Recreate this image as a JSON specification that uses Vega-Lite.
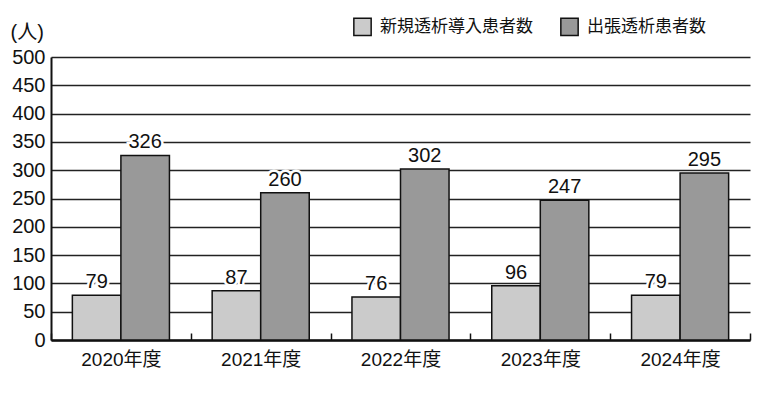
{
  "$schema": "https://vega.github.io/schema/vega-lite/v6.json",
  "autosize": "none",
  "width": 699,
  "height": 283,
  "padding": {"left": 51, "top": 57, "right": 24, "bottom": 56},
  "background": "white",
  "config": {
    "font": "Liberation Sans, Noto Sans CJK JP",
    "view": {"stroke": null}
  },
  "data": {
    "values": [
      {"year": "2020年度", "type": "新規透析導入患者数", "value": 79},
      {"year": "2020年度", "type": "出張透析患者数", "value": 326},
      {"year": "2021年度", "type": "新規透析導入患者数", "value": 87},
      {"year": "2021年度", "type": "出張透析患者数", "value": 260},
      {"year": "2022年度", "type": "新規透析導入患者数", "value": 76},
      {"year": "2022年度", "type": "出張透析患者数", "value": 302},
      {"year": "2023年度", "type": "新規透析導入患者数", "value": 96},
      {"year": "2023年度", "type": "出張透析患者数", "value": 247},
      {"year": "2024年度", "type": "新規透析導入患者数", "value": 79},
      {"year": "2024年度", "type": "出張透析患者数", "value": 295}
    ]
  },
  "encoding": {
    "x": {
      "field": "year", "type": "nominal", "sort": null,
      "scale": {"paddingInner": 0, "paddingOuter": 0},
      "axis": {
        "title": null, "labelAngle": 0, "labelFontSize": 19, "labelColor": "#111",
        "labelPadding": 17,
        "labelFont": "Liberation Sans, Noto Sans CJK JP",
        "tickBand": "extent", "tickSize": -7, "tickColor": "#111", "tickWidth": 1.5,
        "domainColor": "#111", "domainWidth": 2.5, "grid": false
      }
    },
    "xOffset": {
      "field": "type", "type": "nominal",
      "sort": ["新規透析導入患者数", "出張透析患者数"],
      "scale": {"paddingOuter": 0.44, "paddingInner": 0}
    },
    "y": {
      "field": "value", "type": "quantitative",
      "scale": {"domain": [0, 500]},
      "axis": {
        "values": [0, 50, 100, 150, 200, 250, 300, 350, 400, 450, 500],
        "title": "(人)", "titleAngle": 0, "titleFontSize": 20, "titleFontWeight": "normal",
        "titleAlign": "left", "titleBaseline": "middle", "titleX": -41, "titleY": -25,
        "titleColor": "#111",
        "labelFontSize": 20, "labelColor": "#111", "labelPadding": 6, "ticks": false,
        "domainColor": "#111", "domainWidth": 2,
        "grid": true, "gridColor": "#222", "gridWidth": 1.5, "gridOpacity": 1
      }
    }
  },
  "layer": [
    {
      "mark": {"type": "bar", "stroke": "#111", "strokeWidth": 1.5},
      "encoding": {
        "color": {
          "field": "type", "type": "nominal",
          "scale": {"domain": ["新規透析導入患者数", "出張透析患者数"], "range": ["#cbcbcb", "#999999"]},
          "legend": {
            "title": null, "orient": "none", "direction": "horizontal",
            "legendX": 302, "legendY": -40,
            "symbolType": "square", "symbolSize": 300, "symbolStrokeColor": "#111",
            "symbolStrokeWidth": 1.5, "symbolOpacity": 1,
            "labelFontSize": 17, "labelColor": "#111", "labelOffset": 8, "labelLimit": 400,
            "columnPadding": 24,
            "labelFont": "Noto Sans CJK JP"
          }
        }
      }
    },
    {
      "mark": {"type": "text", "baseline": "bottom", "dy": -3, "fontSize": 20, "stroke": "white", "strokeWidth": 5, "fill": "white"},
      "encoding": {"text": {"field": "value", "type": "quantitative"}}
    },
    {
      "mark": {"type": "text", "baseline": "bottom", "dy": -3, "fontSize": 20, "fill": "#111"},
      "encoding": {"text": {"field": "value", "type": "quantitative"}}
    }
  ]
}
